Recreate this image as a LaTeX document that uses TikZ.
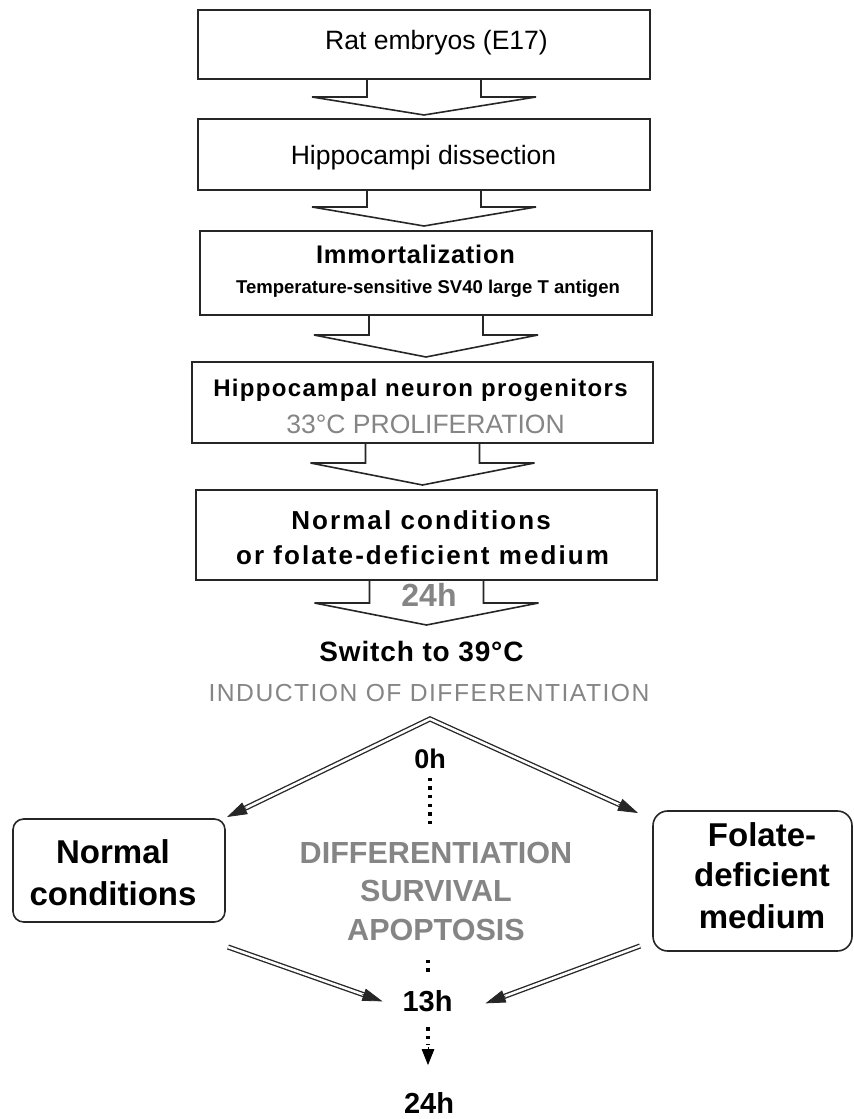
\documentclass[tikz,border=0pt]{standalone}
\usepackage{fontspec}
\setmainfont{Liberation Sans}
\usetikzlibrary{calc,arrows.meta}
\definecolor{tgray}{HTML}{858585}
\definecolor{lineclr}{HTML}{262626}
\newcommand\fsz[1]{\fontsize{#1}{#1}\selectfont}
\newcommand\blkarrow[3]{%
  \draw[blockarrow] ($(#1.south)+(-57,0)$) -- ++(0,#2) -- ++(-55,0)
    -- ($(#1.south)+(0,#2+#3)$) -- ($(#1.south)+(112,#2)$) -- ++(-55,0)
    -- ($(#1.south)+(57,0)$);}
\begin{document}
\begin{tikzpicture}[x=0.75pt,y=-0.75pt,
  box/.style={draw=lineclr, line width=1.2pt, inner sep=0pt, outer sep=0pt},
  rbox/.style={box, rounded corners=8pt},
  blockarrow/.style={draw=lineclr, line width=1.2pt, line join=miter},
  txt/.style={anchor=base, inner sep=0pt, outer sep=0pt},
  dbl/.style={draw=lineclr, double=white, double distance=1.9pt, line width=1pt},
  tipc/.style={-{Triangle[length=15pt,width=9.5pt]}, draw=lineclr, fill=lineclr, line width=0.6pt},
  tipd/.style={-{Triangle[length=12pt,width=9.5pt]}, draw=black, fill=black, line width=0.6pt},
  dotl/.style={draw=black, line width=2.6pt, dash pattern=on 2.6pt off 3.9pt}
]
\useasboundingbox (0,0) rectangle (853,1119);

% boxes
\node[box, minimum width=339pt, minimum height=51.75pt] (b1) at (424,44.5) {};
\node[box, minimum width=339pt, minimum height=53.25pt] (b2) at (424,154.5) {};
\node[box, minimum width=339pt, minimum height=63pt] (b3) at (426,273) {};
\node[box, minimum width=345.75pt, minimum height=60.75pt] (b4) at (422.5,402.5) {};
\node[box, minimum width=345.75pt, minimum height=67.5pt] (b5) at (426.5,535) {};
\node[rbox, minimum width=159pt, minimum height=77.25pt] (nc) at (119,870.5) {};
\node[rbox, rounded corners=11pt, minimum width=149.25pt, minimum height=105pt] (fd) at (752.5,881) {};

% block arrows
\blkarrow{b1}{18}{18}
\blkarrow{b2}{17}{19}
\blkarrow{b3}{20}{22}
\blkarrow{b4}{20}{22}
\blkarrow{b5}{23}{22}

% box texts
\node[txt] (t1) at (436.5,49.3) {\fsz{19.9pt}Rat embryos (E17)};
\node[txt] (t2) at (423.5,165) {\fsz{19.9pt}Hippocampi dissection};
\node[txt] (t3) at (415.5,263.3) {\fsz{19.1pt}\bfseries\addfontfeatures{LetterSpace=3}Immortalization};
\node[txt] (t4) at (428,294) {\fsz{13.9pt}\bfseries Temperature-sensitive SV40 large T antigen};
\node[txt] (t5) at (420.5,396.7) {\fsz{18pt}\bfseries\addfontfeatures{LetterSpace=5.5}Hippocampal neuron progenitors};
\node[txt, text=tgray] (t6) at (425.5,433.3) {\fsz{19.9pt}33°C PROLIFERATION};
\node[txt] (t7) at (421,529.3) {\fsz{19.5pt}\bfseries\addfontfeatures{LetterSpace=8}Normal conditions};
\node[txt] (t8) at (422.5,564) {\fsz{19.5pt}\bfseries\addfontfeatures{LetterSpace=8}or folate-deficient medium};
\node[txt, text=tgray] (t9) at (429,606.7) {\fsz{24pt}\bfseries 24h};
\node[txt] (t10) at (421.5,661.7) {\fsz{21pt}\bfseries\addfontfeatures{LetterSpace=3}Switch to 39°C};
\node[txt, text=tgray] (t11) at (429,701.7) {\fsz{18.5pt}\addfontfeatures{LetterSpace=6}INDUCTION OF DIFFERENTIATION};
\node[txt] (h0) at (430,768.3) {\fsz{20.25pt}\bfseries 0h};

\node[txt] (nc1) at (113,863.3) {\fsz{24.75pt}\bfseries Normal};
\node[txt] (nc2) at (113,905) {\fsz{24.75pt}\bfseries conditions};
\node[txt] (fd1) at (762,846) {\fsz{24.75pt}\bfseries Folate-};
\node[txt] (fd2) at (762,886.7) {\fsz{24.75pt}\bfseries deficient};
\node[txt] (fd3) at (762,928.3) {\fsz{24.75pt}\bfseries medium};

\node[txt, text=tgray] (g1) at (436,863.3) {\fsz{22.9pt}\bfseries DIFFERENTIATION};
\node[txt, text=tgray] (g2) at (436,901.7) {\fsz{22.9pt}\bfseries SURVIVAL};
\node[txt, text=tgray] (g3) at (436,940) {\fsz{22.9pt}\bfseries APOPTOSIS};

\node[txt] (h13) at (427.5,1011.7) {\fsz{21.75pt}\bfseries 13h};
\node[txt] (h24) at (429,1113.3) {\fsz{21.75pt}\bfseries 24h};

% split double arrows
\coordinate (apex) at ($(t11.south)+(1,17)$);
\coordinate (lend) at ($(nc.north east)+(2,-2)$);
\coordinate (rend) at ($(fd.north west)+(-15,2)$);
\draw[dbl, line join=miter, shorten <=14pt, shorten >=14pt] (lend) -- (apex) -- (rend);
\draw[tipc] ($(lend)!16pt!(apex)$) -- (lend);
\draw[tipc] ($(rend)!16pt!(apex)$) -- (rend);

% converging double arrows
\coordinate (ls) at ($(nc.south east)+(3,25)$);
\coordinate (le) at ($(h13.west)+(-20,0)$);
\coordinate (rs) at ($(fd.south west)+(-13,-5)$);
\coordinate (re) at ($(h13.east)+(33,2)$);
\draw[dbl, shorten >=14pt] (ls) -- (le);
\draw[tipc] ($(le)!16pt!(ls)$) -- (le);
\draw[dbl, shorten >=14pt] (rs) -- (re);
\draw[tipc] ($(re)!16pt!(rs)$) -- (re);

% dotted timeline
\draw[dotl] ($(h0.south)+(0,9)$) -- ($(h0.south)+(0,57)$);
\draw[dotl] ($(h13.north)+(0.5,-31)$) -- ($(h13.north)+(0.5,-16)$);
\draw[dotl] ($(h13.south)+(0.5,15)$) -- ($(h13.south)+(0.5,33)$);
\draw[tipd] ($(h13.south)+(0.5,35)$) -- ($(h13.south)+(0.5,53)$);
\end{tikzpicture}
\end{document}
